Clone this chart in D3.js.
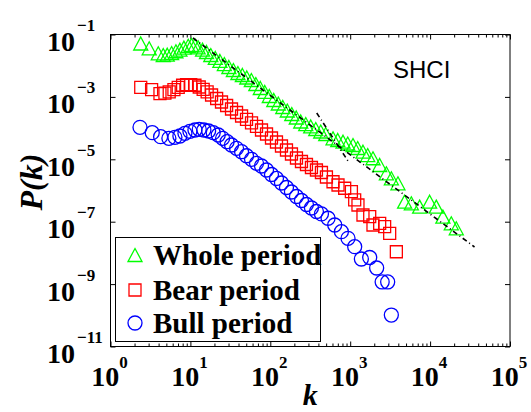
<!DOCTYPE html>
<html>
<head>
<meta charset="utf-8">
<script src="https://cdn.jsdelivr.net/npm/d3@7"></script>
<style>
	html, body { margin: 0; padding: 0; background: #fff; }
	svg { display: block; }
	.tick text { display: none; }
</style>
</head>
<body>
<div id="chart"></div>
<script>
// Values
const wholeK = [2.39, 3.05, 3.96, 4.57, 5.13, 5.82, 6.59, 7.39, 8.29, 9.39, 10.35, 11.4, 12.5, 14.2, 15.9, 18.0, 20.5, 23.4, 26.6, 30.3, 34.5, 39.3, 44.7, 50.8, 57.9, 65.9, 75.0, 85.3, 97.2, 110.6, 125.9, 143.3, 163.1, 185.7, 211.3, 240.5, 277.7, 320.6, 370.7, 427.6, 494, 609.5, 698, 813, 931, 1084, 1241, 1445, 1656, 1928, 2338, 2836, 3273, 3959, 4797, 5821, 7396, 9863, 11950, 14450, 18410, 21260];
const wholeP = [5.15e-2, 3.61e-2, 2.50e-2, 2.20e-2, 2.25e-2, 2.55e-2, 2.90e-2, 3.26e-2, 3.78e-2, 4.35e-2, 4.61e-2, 4.51e-2, 3.89e-2, 3.26e-2, 2.75e-2, 2.20e-2, 1.77e-2, 1.42e-2, 1.13e-2, 9.10e-3, 7.28e-3, 5.83e-3, 5.04e-3, 4.19e-3, 3.48e-3, 2.59e-3, 1.93e-3, 1.44e-3, 1.07e-3, 7.96e-4, 6.14e-4, 4.75e-4, 3.66e-4, 2.83e-4, 2.19e-4, 1.63e-4, 1.35e-4, 1.13e-4, 9.35e-5, 7.78e-5, 6.47e-5, 4.71e-5, 4.16e-5, 3.66e-5, 3.21e-5, 2.87e-5, 2.30e-5, 1.75e-5, 1.37e-5, 1.08e-5, 6.57e-6, 3.56e-6, 2.46e-6, 1.70e-6, 4.38e-7, 3.89e-7, 3.03e-7, 4.38e-7, 3.03e-7, 1.45e-7, 8.89e-8, 6.15e-8];

const bearK = [2.39, 3.27, 4.16, 4.80, 5.43, 6.22, 7.04, 7.99, 8.96, 10.1, 11.4, 12.9, 14.45, 16.2, 18.4, 21.3, 24.5, 28.4, 32.7, 37.8, 43.7, 50.4, 58.2, 67.2, 77.6, 89.7, 103.5, 119.5, 138, 159.4, 184, 212.6, 245.5, 283.5, 327.3, 378, 436.5, 504, 609.5, 704, 853, 1035, 1138, 1251, 1445, 1754, 1928, 2338, 2698, 3119, 3781];
const bearP = [2.03e-3, 1.70e-3, 1.27e-3, 1.33e-3, 1.44e-3, 1.70e-3, 2.03e-3, 2.36e-3, 2.46e-3, 2.46e-3, 2.36e-3, 2.08e-3, 1.73e-3, 1.44e-3, 1.15e-3, 8.89e-4, 6.87e-4, 5.30e-4, 4.09e-4, 3.16e-4, 2.44e-4, 1.89e-4, 1.46e-4, 1.13e-4, 8.69e-5, 6.47e-5, 4.82e-5, 3.58e-5, 2.67e-5, 1.99e-5, 1.48e-5, 1.10e-5, 8.51e-6, 6.82e-6, 5.46e-6, 4.54e-6, 3.78e-6, 2.71e-6, 1.91e-6, 1.50e-6, 1.18e-6, 9.16e-7, 4.97e-7, 3.43e-7, 1.64e-7, 1.45e-7, 7.83e-8, 8.89e-8, 6.92e-8, 4.25e-8, 1.09e-8];

const bullK = [2.34, 3.33, 4.24, 5.38, 6.40, 7.39, 8.54, 9.86, 11.4, 12.9, 14.75, 16.9, 19.3, 22.3, 25.3, 28.8, 32.7, 37.8, 43.7, 50.4, 58.2, 67.2, 77.6, 89.7, 103.5, 119.5, 138, 159.4, 184, 212.6, 245.5, 283.5, 327.3, 378, 436.5, 528, 640, 776, 939, 1138, 1380, 1754, 2143, 2512, 2944, 3273];
const bullP = [1.06e-4, 7.13e-5, 5.30e-5, 4.71e-5, 5.07e-5, 5.58e-5, 6.81e-5, 7.90e-5, 8.69e-5, 9.16e-5, 8.69e-5, 8.07e-5, 7.13e-5, 6.01e-5, 4.71e-5, 3.66e-5, 2.87e-5, 2.25e-5, 1.75e-5, 1.30e-5, 1.00e-5, 7.44e-6, 6.10e-6, 4.54e-6, 3.26e-6, 2.43e-6, 1.74e-6, 1.25e-6, 8.95e-7, 6.43e-7, 4.78e-7, 3.56e-7, 2.75e-7, 2.12e-7, 1.77e-7, 1.29e-7, 7.83e-8, 4.79e-8, 2.94e-8, 1.58e-8, 6.38e-9, 7.13e-9, 3.28e-9, 1.17e-9, 1.17e-9, 1.02e-10];

// dash-dot fitted lines
const fitWholeK = [10.75, 35980];
const fitWholeP = [7.73e-2, 1.545e-8];
const fitTailK = [381, 957];
const fitTailP = [3.05e-4, 8.19e-6];

const xTicks = [1, 10, 100, 1e3, 1e4, 1e5];
const xTickExp = ['0', '1', '2', '3', '4', '5'];
const yTicks = [1e-1, 1e-3, 1e-5, 1e-7, 1e-9, 1e-11];
const yTickExp = ['\u22121', '\u22123', '\u22125', '\u22127', '\u22129', '\u221211'];
const legendNames = ['Whole period', 'Bear period', 'Bull period'];

const w = 531;
const h = 412;
const margin = { left: 110.5, right: 21, top: 34.5, bottom: 65.5 };
const serif = '"Liberation Serif", "Times New Roman", serif';

const svg = d3.select('#chart')
	.append('svg')
	.attr('width', w)
	.attr('height', h);

// Scales
const xScale = d3.scaleLog()
	.domain([1, 1e5])
	.range([margin.left, w - margin.right]);

const yScale = d3.scaleLog()
	.domain([1e-11, 1e-1])
	.range([h - margin.bottom, margin.top]);

const x0 = xScale.range()[0], x1 = xScale.range()[1];
const y0 = yScale.range()[1], y1 = yScale.range()[0];

// minor ticks on k axis
const xMinor = [];
xTicks.slice(0, -1).forEach((t) => {
	for (let m = 2; m <= 9; m++) xMinor.push(t * m);
});

// Axes: inward ticks on all four sides
const addAxis = (axis, tx, ty) => {
	const g = svg.append('g')
		.attr('transform', 'translate(' + tx + ',' + ty + ')')
		.call(axis);
	g.select('.domain').remove();
	g.selectAll('line').attr('stroke', '#000').attr('stroke-width', 1);
};
addAxis(d3.axisBottom(xScale).tickValues(xTicks).tickSize(-5).tickFormat(''), 0, y1);
addAxis(d3.axisBottom(xScale).tickValues(xMinor).tickSize(-3).tickFormat(''), 0, y1);
addAxis(d3.axisTop(xScale).tickValues(xTicks).tickSize(-5).tickFormat(''), 0, y0);
addAxis(d3.axisTop(xScale).tickValues(xMinor).tickSize(-3).tickFormat(''), 0, y0);
addAxis(d3.axisLeft(yScale).tickValues(yTicks).tickSize(-5).tickFormat(''), x0, 0);
addAxis(d3.axisRight(yScale).tickValues(yTicks).tickSize(-5).tickFormat(''), x1, 0);

svg.append('rect')
	.attr('x', x0)
	.attr('y', y0)
	.attr('width', x1 - x0)
	.attr('height', y1 - y0)
	.attr('fill', 'none')
	.attr('stroke', '#000')
	.attr('stroke-width', 1);

// Tick labels with superscripts
xTicks.forEach((t, i) => {
	const txt = svg.append('text')
		.attr('x', xScale(t) - 1)
		.attr('y', y1 + 39)
		.attr('text-anchor', 'middle')
		.style('font-family', serif)
		.style('font-weight', 'bold')
		.style('font-size', '28px');
	txt.append('tspan').text('10');
	txt.append('tspan')
		.attr('dy', -18)
		.style('font-size', '17px')
		.text(xTickExp[i]);
});

yTicks.forEach((t, i) => {
	const txt = svg.append('text')
		.attr('x', 47)
		.attr('y', yScale(t) + 16.5)
		.style('font-family', serif)
		.style('font-weight', 'bold')
		.style('font-size', '28px');
	txt.append('tspan').text('10');
	txt.append('tspan')
		.attr('dx', 2)
		.attr('dy', -20)
		.style('font-size', '17px')
		.text(yTickExp[i]);
});

// Axis titles
svg.append('text')
	.attr('x', (x0 + x1) / 2)
	.attr('y', 405)
	.attr('text-anchor', 'middle')
	.style('font-family', serif)
	.style('font-weight', 'bold')
	.style('font-style', 'italic')
	.style('font-size', '30px')
	.text('k');

svg.append('text')
	.attr('transform', 'translate(42,182) rotate(-90)')
	.attr('text-anchor', 'middle')
	.style('font-family', serif)
	.style('font-weight', 'bold')
	.style('font-style', 'italic')
	.style('font-size', '32px')
	.text('P(k)');

svg.append('text')
	.attr('x', 393)
	.attr('y', 78)
	.style('font-family', '"Liberation Sans", Arial, sans-serif')
	.style('font-size', '24px')
	.text('SHCI');

// Marker shapes
const triPath = 'M0,-6.5L7,6.5L-7,6.5Z';
const sqPath = 'M-6,-6H6V6H-6Z';

const drawSeries = (ks, ps, shape, color) => {
	const data = d3.zip(ks, ps);
	const sel = svg.append('g').selectAll('.pt')
		.data(data)
		.enter();
	if (shape === 'circle') {
		sel.append('circle')
			.attr('cx', (d) => xScale(d[0]))
			.attr('cy', (d) => yScale(d[1]))
			.attr('r', 7)
			.attr('fill', 'none')
			.attr('stroke', color)
			.attr('stroke-width', 1.3);
	} else {
		sel.append('path')
			.attr('d', shape)
			.attr('transform', (d) => 'translate(' + xScale(d[0]) + ',' + yScale(d[1]) + ')')
			.attr('fill', 'none')
			.attr('stroke', color)
			.attr('stroke-width', 1.3);
	}
};

drawSeries(wholeK, wholeP, triPath, '#00ff00');
drawSeries(bearK, bearP, sqPath, '#ff0000');
drawSeries(bullK, bullP, 'circle', '#0000ff');

// Fitted dash-dot lines
const line = d3.line()
	.x((d) => xScale(d[0]))
	.y((d) => yScale(d[1]));

[[fitWholeK, fitWholeP], [fitTailK, fitTailP]].forEach((f) => {
	svg.append('path')
		.attr('d', line(d3.zip(f[0], f[1])))
		.attr('fill', 'none')
		.attr('stroke', '#000')
		.attr('stroke-width', 1.6)
		.attr('stroke-dasharray', '5,3,1,3');
});

// Legend
const legend = svg.append('g');
legend.append('rect')
	.attr('x', 115.5)
	.attr('y', 237.5)
	.attr('width', 205)
	.attr('height', 104)
	.attr('fill', '#fff')
	.attr('stroke', '#000')
	.attr('stroke-width', 1);

const legendRows = [
	{ y: 255, shape: triPath, color: '#00ff00' },
	{ y: 290, shape: sqPath, color: '#ff0000' },
	{ y: 323, shape: 'circle', color: '#0000ff' }
];
legendRows.forEach((r, i) => {
	if (r.shape === 'circle') {
		legend.append('circle')
			.attr('cx', 135)
			.attr('cy', r.y)
			.attr('r', 7)
			.attr('fill', 'none')
			.attr('stroke', r.color)
			.attr('stroke-width', 1.3);
	} else {
		legend.append('path')
			.attr('d', r.shape)
			.attr('transform', 'translate(135,' + r.y + ')')
			.attr('fill', 'none')
			.attr('stroke', r.color)
			.attr('stroke-width', 1.3);
	}
	legend.append('text')
		.attr('x', 153)
		.attr('y', r.y + 10)
		.style('font-family', serif)
		.style('font-weight', 'bold')
		.style('font-size', '29px')
		.text(legendNames[i]);
});
</script>
</body>
</html>
